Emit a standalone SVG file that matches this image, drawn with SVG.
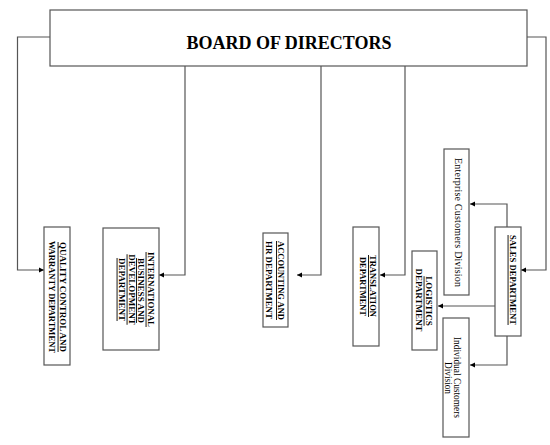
<svg xmlns="http://www.w3.org/2000/svg" width="550" height="445" viewBox="0 0 550 445">
<style>
.box{fill:#fff;stroke:#555;stroke-width:1.2}
.ln{fill:none;stroke:#555;stroke-width:1.2}
.t{font-family:"Liberation Serif","Times New Roman",serif;font-weight:bold;font-size:9px;fill:#000;text-anchor:middle}
.u{text-decoration:underline}
.r{font-family:"Liberation Serif","Times New Roman",serif;font-size:10px;fill:#000;text-anchor:middle}
.h{font-family:"Liberation Serif","Times New Roman",serif;font-weight:bold;font-size:18px;fill:#000;text-anchor:middle}
</style>
<defs>
<marker id="ah" markerWidth="6" markerHeight="6" refX="5" refY="3" orient="auto" markerUnits="userSpaceOnUse">
<path d="M0,0.5 L5,3 L0,5.5 Z" fill="#000"/>
</marker>
</defs>
<rect width="550" height="445" fill="#fff"/>
<g id="connectors">
<path class="ln" d="M50,37 H17.5 V270 H44" marker-end="url(#ah)"/>
<path class="ln" d="M185,66 V275 H159" marker-end="url(#ah)"/>
<path class="ln" d="M321,66 V275 H297" marker-end="url(#ah)"/>
<path class="ln" d="M405,66 V275 H380" marker-end="url(#ah)"/>
<path class="ln" d="M527,37 H546 V270 H521" marker-end="url(#ah)"/>
<path class="ln" d="M507,227 V204 H470" marker-end="url(#ah)"/>
<path class="ln" d="M495,306 H438" marker-end="url(#ah)"/>
<path class="ln" d="M507,336 V365 H470" marker-end="url(#ah)"/>
</g>
<g id="board">
<rect class="box" x="50" y="10" width="477" height="56"/>
<text class="h" x="289" y="49">BOARD OF DIRECTORS</text>
</g>
<g id="quality">
<rect class="box" x="44" y="227" width="26" height="138"/>
<text class="t u" transform="translate(59.5,297) rotate(90)" textLength="110" lengthAdjust="spacingAndGlyphs">QUALITY CONTROL AND</text>
<text class="t" transform="translate(48.5,297) rotate(90)" textLength="112" lengthAdjust="spacingAndGlyphs">WARRANTY DEPARTMENT</text>
</g>
<g id="international">
<rect class="box" x="103" y="228" width="56" height="122"/>
<text class="t u" transform="translate(147.5,289.5) rotate(90)" textLength="75" lengthAdjust="spacingAndGlyphs">INTERNATIONAL</text>
<text class="t u" transform="translate(138,290.5) rotate(90)">BUSINESS AND</text>
<text class="t u" transform="translate(128.5,289.5) rotate(90)">DEVELOPMENT</text>
<text class="t u" transform="translate(118.5,289.5) rotate(90)">DEPARTMENT</text>
</g>
<g id="accounting">
<rect class="box" x="263" y="233" width="25" height="94"/>
<text class="t u" transform="translate(278,280.5) rotate(90)" textLength="79" lengthAdjust="spacingAndGlyphs">ACCOUNTING AND</text>
<text class="t" transform="translate(266,280) rotate(90)" textLength="78" lengthAdjust="spacingAndGlyphs">HR DEPARTMENT</text>
</g>
<g id="translation">
<rect class="box" x="353" y="227" width="26" height="119"/>
<text class="t u" transform="translate(370,286) rotate(90)" textLength="62" lengthAdjust="spacingAndGlyphs">TRANSLATION</text>
<text class="t" transform="translate(359.5,286.5) rotate(90)" textLength="59" lengthAdjust="spacingAndGlyphs">DEPARTMENT</text>
</g>
<g id="logistics">
<rect class="box" x="412" y="251" width="25" height="99"/>
<text class="t u" transform="translate(425.5,301) rotate(90)">LOGISTICS</text>
<text class="t" transform="translate(415.5,300) rotate(90)">DEPARTMENT</text>
</g>
<g id="sales">
<rect class="box" x="495" y="227" width="26" height="109"/>
<text class="t u" transform="translate(509.5,280) rotate(90)" textLength="90" lengthAdjust="spacingAndGlyphs">SALES DEPARTMENT</text>
</g>
<g id="enterprise">
<rect class="box" x="444" y="149" width="25" height="146"/>
<text class="r" transform="translate(454.5,222.5) rotate(90)" textLength="129">Enterprise Customers Division</text>
</g>
<g id="individual">
<rect class="box" x="443" y="318" width="26" height="119"/>
<text class="r" transform="translate(454,377.5) rotate(90)" textLength="81" lengthAdjust="spacingAndGlyphs">Individual Customers</text>
<text class="r" transform="translate(445,378) rotate(90)" textLength="32" lengthAdjust="spacingAndGlyphs">Division</text>
</g>
</svg>
